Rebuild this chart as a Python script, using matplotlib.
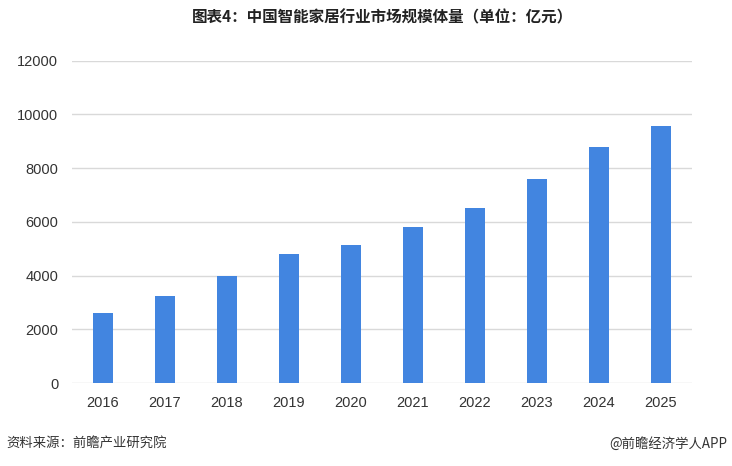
import matplotlib
matplotlib.use("Agg")
import matplotlib.pyplot as plt

# ─────────────────────────────────────────────────────────────
# Data
# ─────────────────────────────────────────────────────────────

years = ["2016", "2017", "2018", "2019", "2020",
         "2021", "2022", "2023", "2024", "2025"]
market_size = [2620, 3240, 4000, 4800, 5140, 5810, 6520, 7600, 8790, 9570]
y_ticks = [0, 2000, 4000, 6000, 8000, 10000, 12000]

TITLE = "图表4：中国智能家居行业市场规模体量（单位：亿元）"
SOURCE = "资料来源：前瞻产业研究院"
CREDIT = "@前瞻经济学人APP"

BAR_COLOR = "#4285e0"
GRID_COLOR = "#d9d9d9"
CJK = ["Noto Sans CJK SC", "DejaVu Sans"]
NUM = ["Liberation Sans", "DejaVu Sans"]

# ─────────────────────────────────────────────────────────────
# Plot
# ─────────────────────────────────────────────────────────────

fig = plt.figure(figsize=(7.32, 4.66), dpi=100)
ax = fig.add_axes([0.0984, 0.178, 0.847, 0.692])

x = range(len(years))
ax.bar(x, market_size, width=0.31, color=BAR_COLOR, zorder=3)

ax.set_xlim(-0.5, len(years) - 0.5)
ax.set_ylim(0, 12000)
ax.set_yticks(y_ticks)
ax.set_yticklabels([str(v) for v in y_ticks], family=NUM, fontsize=10.5, color="#333333")
ax.set_xticks(list(x))
ax.set_xticklabels(years, family=NUM, fontsize=10.5, color="#333333")

ax.grid(True, axis="y", color=GRID_COLOR, linewidth=1, zorder=0)
for s in ax.spines.values():
    s.set_visible(False)
ax.tick_params(axis="both", length=0)
ax.tick_params(axis="y", pad=10)
ax.tick_params(axis="x", pad=9)

fig.text(0.522, 0.962, TITLE, ha="center", va="center",
         family=CJK, fontsize=11.2, fontweight="bold", color="#222222")
fig.text(0.009, 0.047, SOURCE, ha="left", va="center",
         family=CJK, fontsize=9.6, color="#333333")
fig.text(0.993, 0.047, CREDIT, ha="right", va="center",
         family=CJK, fontsize=9.6, color="#333333")

fig.savefig("out.png", dpi=100)
plt.close(fig)
